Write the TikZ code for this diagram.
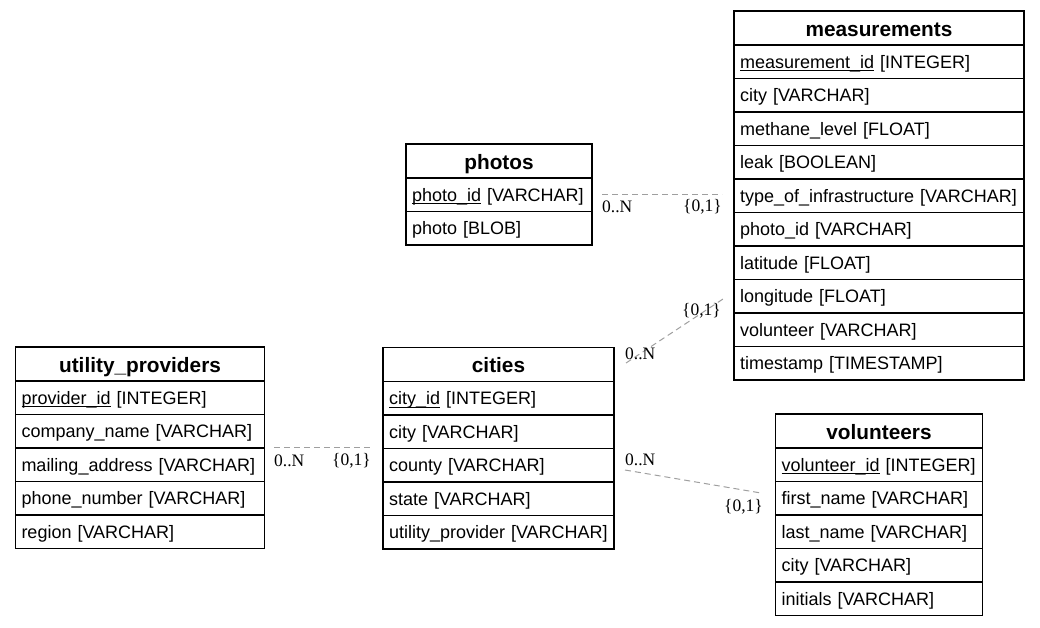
\documentclass[tikz,border=0pt]{standalone}
\usepackage{fontspec}
\setmainfont{Liberation Sans}
\newfontfamily\lblfont{Liberation Serif}
\newcommand\pk[1]{\setbox0\hbox{#1}\rlap{\rule[-3pt]{\wd0}{0.9pt}}\box0\relax}
\tikzset{
 tbox/.style={draw, line width=1.1pt, anchor=north west, inner sep=0pt, outer sep=0pt, minimum height=33.5pt},
 thead/.style={tbox, minimum height=34pt, text height=17.5pt, text depth=1.5pt, font=\fontsize{20.8}{24}\bfseries\selectfont},
 trow/.style={tbox, inner xsep=6pt, align=left, text height=14.5pt, text depth=1.5pt, font=\fontsize{18}{21}\selectfont},
 rel/.style={draw=gray!75, dash pattern=on 6pt off 4pt, line width=1pt},
 card/.style={font=\lblfont\fontsize{17.5}{20}\selectfont, inner sep=0pt},
}
\newcommand\erdtable[6]{%
 \node[thead, minimum width=#4pt] (#1) at (#2,#3) {#5};
 \foreach \rt [count=\i] in {#6} {
   \pgfmathsetmacro\yy{#3+34+(\i-1)*33.5}
   \pgfmathsetmacro\tw{#4-12}
   \node[trow, text width=\tw pt] (#1-\i) at (#2,\yy) {\rt};
 }
}
\begin{document}
\begin{tikzpicture}[x=1pt,y=-1pt]
\useasboundingbox (0,0) rectangle (1040,627);
\erdtable{meas}{734}{11}{290}{measurements}{\pk{measurement\_id} [INTEGER],city [VARCHAR],methane\_level [FLOAT],leak [BOOLEAN],type\_of\_infrastructure [VARCHAR],photo\_id [VARCHAR],latitude [FLOAT],longitude [FLOAT],volunteer [VARCHAR],timestamp [TIMESTAMP]}
\erdtable{photos}{406}{144}{186}{photos}{\pk{photo\_id} [VARCHAR],photo [BLOB]}
\erdtable{util}{15.5}{347}{249}{utility\_providers}{\pk{provider\_id} [INTEGER],company\_name [VARCHAR],mailing\_address [VARCHAR],phone\_number [VARCHAR],region [VARCHAR]}
\erdtable{cities}{383}{347.5}{231}{cities}{\pk{city\_id} [INTEGER],city [VARCHAR],county [VARCHAR],state [VARCHAR],utility\_provider [VARCHAR]}
\erdtable{vol}{775.5}{414}{207}{volunteers}{\pk{volunteer\_id} [INTEGER],first\_name [VARCHAR],last\_name [VARCHAR],city [VARCHAR],initials [VARCHAR]}
% connector end points
\coordinate (pmA) at (602,194);
\coordinate (pmB) at (722,194);
\coordinate (cmA) at (626,363);
\coordinate (cmB) at (723,299);
\coordinate (cvA) at (625,470);
\coordinate (cvB) at (761,493);
\coordinate (ucA) at (274,447);
\coordinate (ucB) at (373,447);
\draw[rel] (pmA) -- (pmB);
\draw[rel] (cmA) -- (cmB);
\draw[rel] (cvA) -- (cvB);
\draw[rel] (ucA) -- (ucB);
\node[card, anchor=west] (pmN) at (602,207) {0..N};
\node[card, anchor=east] (pmO) at (722,207) {\{0,1\}};
\node[card, anchor=west] (cmN) at (625,354) {0..N};
\node[card, anchor=east] (cmO) at (721,311) {\{0,1\}};
\node[card, anchor=west] (cvN) at (625,460) {0..N};
\node[card, anchor=east] (cvO) at (763,507) {\{0,1\}};
\node[card, anchor=west] (ucN) at (274,461) {0..N};
\node[card, anchor=east] (ucO) at (371,461) {\{0,1\}};
\end{tikzpicture}
\end{document}
